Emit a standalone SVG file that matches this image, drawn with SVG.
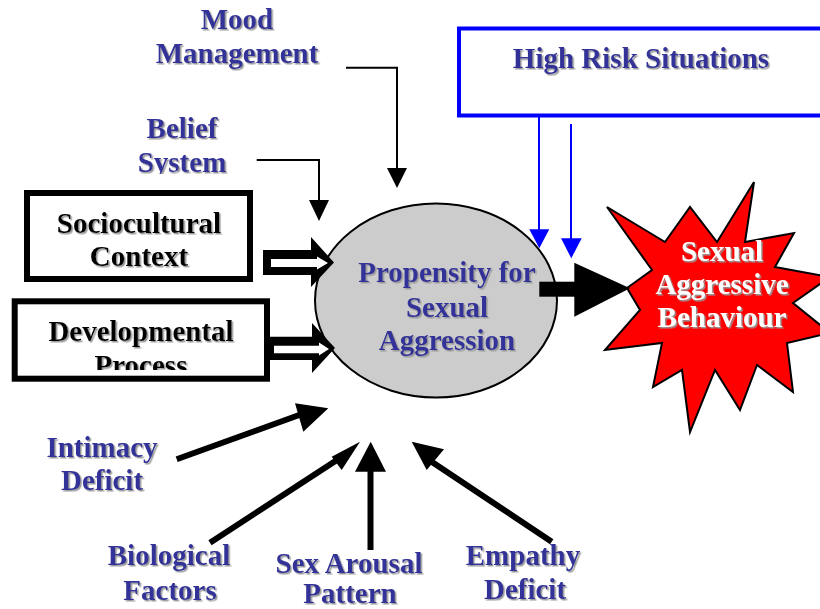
<svg xmlns="http://www.w3.org/2000/svg" width="820" height="609" viewBox="0 0 820 609">
<defs>
  <filter id="sh" x="-10%" y="-20%" width="130%" height="150%">
    <feDropShadow dx="1.5" dy="1.5" stdDeviation="0.6" flood-color="#999999" flood-opacity="1"/>
  </filter>
  <clipPath id="devclip"><rect x="0" y="290" width="300" height="80"/></clipPath>
  <clipPath id="beliefclip"><rect x="100" y="100" width="160" height="74"/></clipPath>
  <style>
    .t{font-family:"Liberation Serif","Times New Roman",serif;font-weight:bold;font-size:29px;text-anchor:middle;filter:url(#sh)}
    .blue{fill:#333399}
    .blk{fill:#000000}
    .wht{fill:#ffffff}
    .box{fill:#ffffff;stroke:#000000;stroke-width:6}
    .thin{fill:none;stroke:#000000;stroke-width:2}
    .thick{fill:none;stroke:#000000;stroke-width:6}
    .bl{fill:none;stroke:#0000ff;stroke-width:2}
  </style>
</defs>
<rect x="0" y="0" width="820" height="609" fill="#ffffff"/>

<g id="high-risk">
  <rect x="459" y="28.5" width="400" height="87" fill="#ffffff" stroke="#0000ff" stroke-width="4"/>
  <text class="t blue" x="641" y="68">High Risk Situations</text>
</g>

<g id="star">
  <polygon points="627,288 652,270 607,207 665,242 690,207 717,242 754,182 745,242 794,233 775,267 830,277 793,303 830,333 787,343 793,392 757,365 740,410 715,370 690,432 682,370 653,387 662,343 605,350 640,310" fill="#ff0000" stroke="#000000" stroke-width="2" stroke-linejoin="miter"/>
  <text class="t wht" x="722" y="261">Sexual</text>
  <text class="t wht" x="722" y="294">Aggressive</text>
  <text class="t wht" x="722" y="327">Behaviour</text>
</g>

<g id="propensity">
  <ellipse cx="436" cy="300.5" rx="121" ry="97" fill="#cccccc" stroke="#000000" stroke-width="2"/>
  <text class="t blue" x="447" y="282">Propensity for</text>
  <text class="t blue" x="447" y="317">Sexual</text>
  <text class="t blue" x="447" y="350">Aggression</text>
</g>

<g id="sociocultural">
  <rect class="box" x="27" y="193" width="223" height="86"/>
  <text class="t blk" x="139" y="233">Sociocultural</text>
  <text class="t blk" x="139" y="266">Context</text>
</g>

<g id="developmental">
  <rect class="box" x="14.7" y="301.3" width="252.3" height="77.4"/>
  <g clip-path="url(#devclip)">
    <text class="t blk" x="141" y="341">Developmental</text>
    <text class="t blk" x="141" y="375">Process</text>
  </g>
</g>

<g id="mood">
  <text class="t blue" x="237" y="29">Mood</text>
  <text class="t blue" x="237" y="63">Management</text>
</g>

<g id="belief">
  <g clip-path="url(#beliefclip)">
    <text class="t blue" x="182" y="138">Belief</text>
    <text class="t blue" x="182" y="172">System</text>
  </g>
</g>

<g id="intimacy">
  <text class="t blue" x="102" y="457">Intimacy</text>
  <text class="t blue" x="102" y="490">Deficit</text>
</g>

<g id="biological">
  <text class="t blue" x="169" y="565">Biological</text>
  <text class="t blue" x="170" y="600">Factors</text>
</g>

<g id="sexarousal">
  <text class="t blue" x="349" y="573">Sex Arousal</text>
  <text class="t blue" x="350" y="603">Pattern</text>
</g>

<g id="empathy">
  <text class="t blue" x="523" y="565">Empathy</text>
  <text class="t blue" x="525" y="599">Deficit</text>
</g>

<g id="connectors">
  <polyline class="thin" points="346,67.7 397,67.7 397,170"/>
  <polygon points="387,168 407,168 397,188" fill="#000000"/>
  <polyline class="thin" points="256.7,160 319,160 319,202"/>
  <polygon points="309,200 329,200 319,221" fill="#000000"/>
  <polygon points="263,250 311,250 311,237 334,262.5 311,287 311,275 263,275" fill="#000000"/>
  <polygon points="271,259 317,259 317,256.5 328,263 317,269.5 317,267 271,267" fill="#ffffff"/>
  <polygon points="269,336.7 312,336.7 312,323 335,348 312,373 312,360 269,360" fill="#000000"/>
  <polygon points="274,345.7 319,345.7 319,342.5 329,349 319,355.5 319,353.3 274,353.3" fill="#ffffff"/>
  <line class="bl" x1="539" y1="117" x2="539" y2="231"/>
  <polygon points="529.3,229.3 549.3,229.3 539.3,248.3" fill="#0000ff"/>
  <line class="bl" x1="571" y1="124" x2="571" y2="240"/>
  <polygon points="561,238.3 581.7,238.3 571.3,258.3" fill="#0000ff"/>
  <rect x="539.3" y="281.7" width="36" height="15" fill="#000000"/>
  <polygon points="574.3,262.7 574.3,316.7 630,288.3" fill="#000000"/>
  <line class="thick" x1="176.7" y1="459.3" x2="302" y2="414"/>
  <polygon points="295,403.3 328.3,408.3 303.3,431.7" fill="#000000"/>
  <line class="thick" x1="210" y1="542.7" x2="340" y2="458"/>
  <polygon points="331.7,456.7 360,441.7 341.7,470" fill="#000000"/>
  <line class="thick" x1="370.5" y1="550" x2="370.5" y2="470"/>
  <polygon points="355,471.7 386,471.7 370.7,441.7" fill="#000000"/>
  <line class="thick" x1="551.7" y1="541.7" x2="432" y2="462"/>
  <polygon points="411.7,441.7 426.7,470 444,449.3" fill="#000000"/>
</g>
</svg>
